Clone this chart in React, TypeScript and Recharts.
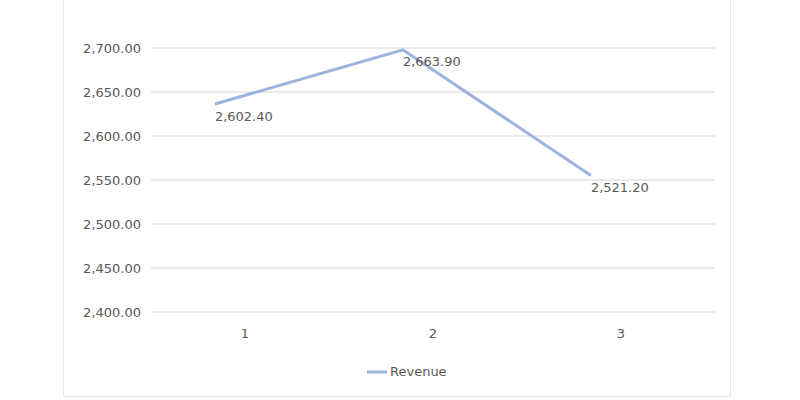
import React from "react";
import { LineChart, Line, XAxis, YAxis, CartesianGrid, Legend, LabelList } from "recharts";

const periods = [1, 2, 3];
const revenue = [2602.4, 2663.9, 2521.2];
const yTicks = [2400, 2450, 2500, 2550, 2600, 2650, 2700];
const xTicks = [1, 2, 3];
const seriesName = "Revenue";

const data = periods.map((p, i) => ({ period: p, revenue: revenue[i] }));

const FONT = "'DejaVu Sans', sans-serif";
const TEXT = "#595959";
const LINE = "#9cb2df";

const fmt = (v: number) =>
  v.toLocaleString("en-US", { minimumFractionDigits: 2, maximumFractionDigits: 2 });

const PointLabel = (props: any) => {
  const { x, y, value } = props;
  return (
    <text x={x} y={y + 12} dy="0.35em" textAnchor="start" fill={TEXT} fontSize={13} fontFamily={FONT}>
      {fmt(value)}
    </text>
  );
};

const LegendContent = () => (
  <div style={{ position: "relative", height: 20 }}>
    <svg width={24} height={20} style={{ position: "absolute", left: 366, top: 0 }}>
      <line x1={1} y1={10} x2={21} y2={10} stroke={LINE} strokeWidth={3} />
    </svg>
    <span
      style={{
        position: "absolute",
        left: 390,
        top: 2,
        fontFamily: FONT,
        fontSize: 13,
        color: TEXT,
        lineHeight: "16px",
      }}
    >
      {seriesName}
    </span>
  </div>
);

export default function App() {
  return (
    <div style={{ position: "absolute", left: 0, top: 0, width: 800, height: 400, background: "#fff" }}>
      <div
        style={{
          position: "absolute",
          left: 63,
          top: -2,
          width: 668,
          height: 399,
          border: "1px solid #e6e6e6",
          boxSizing: "border-box",
        }}
      />
      <LineChart
        width={800}
        height={400}
        data={data}
        margin={{ top: 48, right: 85, bottom: 58, left: 0 }}
        style={{ position: "absolute", left: 0, top: 0 }}
      >
        <CartesianGrid xAxisId="main" yAxisId="main" vertical={false} stroke="#e3e3e3" strokeWidth={1.5} />
        <XAxis
          xAxisId="main"
          type="number"
          dataKey="period"
          domain={[0.5, 3.5]}
          ticks={xTicks}
          axisLine={false}
          tickLine={false}
          tickMargin={11}
          height={30}
          tick={{ fill: TEXT, fontSize: 13, fontFamily: FONT }}
        />
        <XAxis xAxisId="line" type="number" dataKey="period" domain={[0.66, 3.66]} height={0} hide />
        <YAxis
          yAxisId="main"
          type="number"
          width={151}
          domain={[2400, 2700]}
          ticks={yTicks}
          axisLine={false}
          tickLine={false}
          tickSize={6}
          tickMargin={4}
          tickFormatter={fmt}
          tick={{ fill: TEXT, fontSize: 13, fontFamily: FONT }}
        />
        <YAxis yAxisId="line" type="number" domain={[2366, 2666]} width={0} hide />
        <Line
          xAxisId="main"
          yAxisId="main"
          dataKey="revenue"
          stroke="none"
          dot={false}
          activeDot={false}
          legendType="none"
          isAnimationActive={false}
        />
        <Line
          xAxisId="line"
          yAxisId="line"
          type="linear"
          dataKey="revenue"
          name={seriesName}
          stroke={LINE}
          strokeWidth={3}
          dot={false}
          activeDot={false}
          isAnimationActive={false}
        >
          <LabelList dataKey="revenue" content={PointLabel} />
        </Line>
        <Legend
          verticalAlign="middle"
          layout="horizontal"
          content={LegendContent}
          wrapperStyle={{ position: "absolute", left: 0, top: 362, width: 800, height: 20 }}
        />
      </LineChart>
    </div>
  );
}
